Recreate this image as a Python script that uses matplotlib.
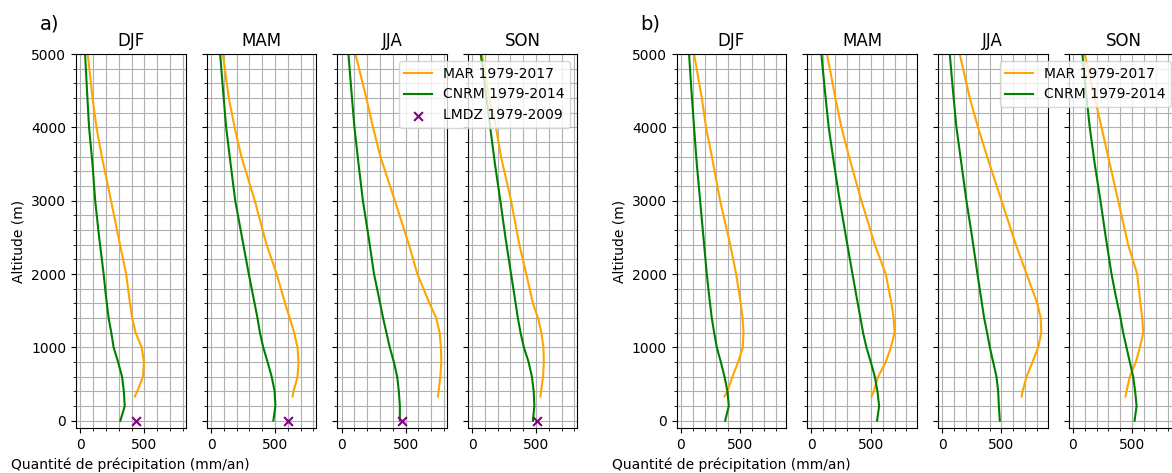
import matplotlib
matplotlib.use("Agg")
import matplotlib.pyplot as plt
from matplotlib.ticker import MultipleLocator

seasons = ["DJF", "MAM", "JJA", "SON"]

# altitudes (m) of the model levels
alt_mar = [330, 400, 600, 800, 1000, 1200, 1400, 1600, 2000, 2400, 3000, 3600, 4000, 4400, 5000]
alt_cnrm = [0, 200, 400, 600, 800, 1000, 1200, 1400, 1700, 2000, 2500, 3000, 3500, 4000, 4500, 5000]

# a) precipitation (mm/an)
mar_a_djf = [426, 445, 490, 497, 479, 432, 405, 388, 358, 310, 240, 168, 126, 95, 58]
mar_a_mam = [637, 645, 676, 684, 676, 650, 615, 579, 513, 434, 342, 237, 184, 139, 92]
mar_a_jja = [753, 758, 771, 779, 776, 766, 739, 687, 592, 526, 416, 303, 245, 193, 108]
mar_a_son = [534, 539, 555, 561, 558, 542, 516, 476, 424, 370, 305, 226, 187, 134, 76]

cnrm_a_djf = [313, 347, 340, 326, 295, 260, 242, 221, 200, 182, 147, 116, 95, 68, 52, 37]
cnrm_a_mam = [487, 503, 497, 474, 442, 408, 382, 363, 329, 295, 242, 189, 153, 118, 94, 71]
cnrm_a_jja = [455, 455, 447, 434, 408, 376, 350, 324, 289, 253, 211, 166, 132, 100, 76, 53]
cnrm_a_son = [476, 487, 482, 468, 442, 405, 379, 358, 332, 305, 261, 221, 179, 142, 105, 68]

lmdz_a = [432, 605, 468, 508]

# b)
mar_b_djf = [368, 393, 435, 483, 522, 528, 520, 505, 466, 416, 331, 262, 213, 177, 112]
mar_b_mam = [506, 525, 562, 626, 669, 700, 692, 674, 626, 534, 421, 317, 253, 202, 132]
mar_b_jja = [669, 677, 711, 761, 809, 835, 830, 801, 711, 621, 500, 379, 303, 233, 149]
mar_b_son = [444, 452, 480, 531, 565, 593, 584, 570, 542, 466, 382, 298, 242, 185, 101]

cnrm_b_djf = [374, 404, 393, 368, 337, 303, 281, 261, 239, 219, 191, 163, 135, 112, 90, 70]
cnrm_b_mam = [553, 570, 556, 534, 500, 463, 435, 413, 379, 346, 292, 239, 191, 146, 114, 84]
cnrm_b_jja = [486, 478, 472, 458, 430, 402, 379, 354, 326, 298, 253, 205, 163, 121, 92, 65]
cnrm_b_son = [520, 537, 525, 508, 480, 452, 424, 402, 362, 326, 278, 233, 185, 143, 110, 81]

mar_a = [mar_a_djf, mar_a_mam, mar_a_jja, mar_a_son]
cnrm_a = [cnrm_a_djf, cnrm_a_mam, cnrm_a_jja, cnrm_a_son]
mar_b = [mar_b_djf, mar_b_mam, mar_b_jja, mar_b_son]
cnrm_b = [cnrm_b_djf, cnrm_b_mam, cnrm_b_jja, cnrm_b_son]

W, H = 1172, 473
fig = plt.figure(figsize=(W / 100, H / 100), dpi=100)

bottom = (H - 428) / H
height = (428 - 54) / H
width = 109.5 / W


def panel(lefts, mar, cnrm, lmdz, xlim, letter, letter_x):
    axes = []
    for i, left in enumerate(lefts):
        ax = fig.add_axes([left / W, bottom, width, height],
                          sharey=axes[0] if axes else None)
        ax.plot(mar[i], alt_mar, color="orange", label="MAR 1979-2017")
        ax.plot(cnrm[i], alt_cnrm, color="green", label="CNRM 1979-2014")
        if lmdz is not None:
            ax.scatter([lmdz[i]], [0], marker="x", color="purple", s=40,
                       label="LMDZ 1979-2009", zorder=3)
        ax.set_xlim(*xlim)
        ax.set_ylim(-100, 5000)
        ax.xaxis.set_major_locator(MultipleLocator(500))
        ax.xaxis.set_minor_locator(MultipleLocator(100))
        ax.yaxis.set_major_locator(MultipleLocator(1000))
        ax.yaxis.set_minor_locator(MultipleLocator(200))
        ax.grid(which="both", color="#b0b0b0", linewidth=0.8)
        ax.set_axisbelow(True)
        ax.set_title(seasons[i], fontsize=12)
        if i == 0:
            ax.set_ylabel("Altitude (m)")
            ax.set_xlabel("Quantité de précipitation (mm/an)")
        else:
            ax.tick_params(labelleft=False)
        axes.append(ax)
    axes[-1].legend(loc="upper right", fontsize=10)
    fig.text(letter_x / W, 1 - 24 / H, letter, fontsize=14, va="center")
    return axes


panel([76, 206.7, 337.3, 467.7], mar_a, cnrm_a, lmdz_a, (-34, 822), "a)", 40)
panel([676.7, 807.3, 938.0, 1068.7], mar_b, cnrm_b, None, (-34, 887), "b)", 640)

fig.savefig("out.png", dpi=100)
